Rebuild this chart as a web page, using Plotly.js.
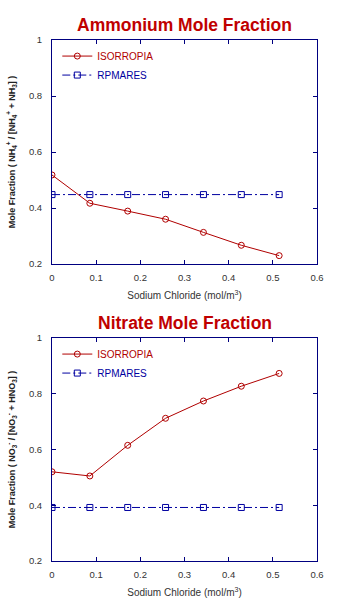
<!DOCTYPE html>
<html><head><meta charset="utf-8">
<script src="https://cdn.plot.ly/plotly-3.0.1.min.js"></script>
<style>html,body{margin:0;padding:0;background:#fff}#chart{width:342px;height:607px}</style>
</head><body><div id="chart"></div>
<script>
// Sodium chloride concentrations (mol/m^3)
const nacl = [0, 0.0857, 0.1714, 0.2571, 0.3429, 0.4286, 0.5143];
// Ammonium mole fraction
const ammoniumIsorropia = [0.518, 0.417, 0.389, 0.360, 0.313, 0.267, 0.230];
const ammoniumRpmares   = [0.448, 0.448, 0.448, 0.448, 0.448, 0.448, 0.448];
// Nitrate mole fraction
const nitrateIsorropia = [0.520, 0.505, 0.615, 0.712, 0.774, 0.827, 0.873];
const nitrateRpmares   = [0.392, 0.392, 0.392, 0.392, 0.392, 0.392, 0.392];
const xTicks = [0, 0.1, 0.2, 0.3, 0.4, 0.5, 0.6];
const xTickText = ['0', '0.1', '0.2', '0.3', '0.4', '0.5', '0.6'];
const yTicks = [0.2, 0.4, 0.6, 0.8, 1];
const yTickText = ['0.2', '0.4', '0.6', '0.8', '1'];

const RED = '#b00000', BLUE = '#0000a0', NAVY = '#000080';
const FONT = 'Liberation Sans, Arial, sans-serif';
const TICKCOL = '#333';

function isoTrace(y, xa, ya, lg) {
  return {x: nacl, y: y, xaxis: xa, yaxis: ya, legend: lg, type: 'scatter', mode: 'lines+markers',
    name: '<span style="color:' + RED + '">ISORROPIA</span>',
    line: {color: RED, width: 1}, marker: {symbol: 'circle-open', size: 6, color: RED, line: {width: 1}}};
}
function rpmTrace(y, xa, ya, lg) {
  return {x: nacl, y: y, xaxis: xa, yaxis: ya, legend: lg, type: 'scatter', mode: 'lines+markers',
    name: '<span style="color:' + BLUE + '">RPMARES</span>',
    line: {color: BLUE, width: 1, dash: '8px,3px,2px,3px'}, marker: {symbol: 'square-open', size: 6, color: BLUE, line: {width: 1}}};
}

const data = [
  isoTrace(ammoniumIsorropia, 'x', 'y', 'legend'),
  rpmTrace(ammoniumRpmares, 'x', 'y', 'legend'),
  isoTrace(nitrateIsorropia, 'x2', 'y2', 'legend2'),
  rpmTrace(nitrateRpmares, 'x2', 'y2', 'legend2')
];

function xAxis(anchor) {
  return {anchor: anchor, range: [0, 0.6], tickvals: xTicks, ticktext: xTickText,
    ticks: 'inside', ticklen: 4, tickcolor: NAVY, showline: true, mirror: 'ticks', linecolor: NAVY, linewidth: 1,
    showgrid: false, zeroline: false, ticklabelstandoff: 5, tickfont: {family: FONT, size: 9.5, color: TICKCOL},
    title: {text: 'Sodium Chloride (mol/m<sup>3</sup>)', font: {family: FONT, size: 10, color: TICKCOL}, standoff: 9}};
}
function yAxis(anchor, domain, title) {
  return {anchor: anchor, domain: domain, range: [0.2, 1], tickvals: yTicks, ticktext: yTickText,
    ticks: 'inside', ticklen: 4, tickcolor: NAVY, showline: true, mirror: 'ticks', linecolor: NAVY, linewidth: 1,
    showgrid: false, zeroline: false, ticklabelstandoff: 7, tickfont: {family: FONT, size: 9.5, color: TICKCOL},
    title: {text: title, font: {family: FONT, size: 9, color: '#222', weight: 'bold'}, standoff: 11}};
}

const layout = {
  width: 342, height: 607, paper_bgcolor: '#fff', plot_bgcolor: '#fff',
  margin: {l: 52, r: 25, t: 40, b: 46},
  showlegend: true,
  xaxis: xAxis('y'),
  yaxis: yAxis('x', [0.570, 1], 'Mole Fraction ( NH<sub>4</sub><sup>+</sup> / [NH<sub>4</sub><sup>+</sup> + NH<sub>3</sub>] )'),
  xaxis2: xAxis('y2'),
  yaxis2: yAxis('x2', [0, 0.428], 'Mole Fraction ( NO<sub>3</sub><sup>-</sup> / [NO<sub>3</sub><sup>-</sup> + HNO<sub>3</sub>] )'),
  legend: {x: 0.02, y: 0.997, xanchor: 'left', yanchor: 'top', bgcolor: 'rgba(0,0,0,0)', font: {family: FONT, size: 10},
    itemwidth: 30, tracegroupgap: 0},
  legend2: {x: 0.02, y: 0.425, xanchor: 'left', yanchor: 'top', bgcolor: 'rgba(0,0,0,0)', font: {family: FONT, size: 10},
    itemwidth: 30, tracegroupgap: 0},
  annotations: [
    {text: 'Ammonium Mole Fraction', xref: 'paper', yref: 'paper', x: 0.5, y: 1, yshift: 15, yanchor: 'middle',
      showarrow: false, font: {family: FONT, size: 17.5, color: '#c00000', weight: 'bold'}},
    {text: 'Nitrate Mole Fraction', xref: 'paper', yref: 'paper', x: 0.5, y: 0.428, yshift: 15, yanchor: 'middle',
      showarrow: false, font: {family: FONT, size: 17.5, color: '#c00000', weight: 'bold'}}
  ]
};

Plotly.newPlot('chart', data, layout, {displayModeBar: false, staticPlot: true});
</script></body></html>
